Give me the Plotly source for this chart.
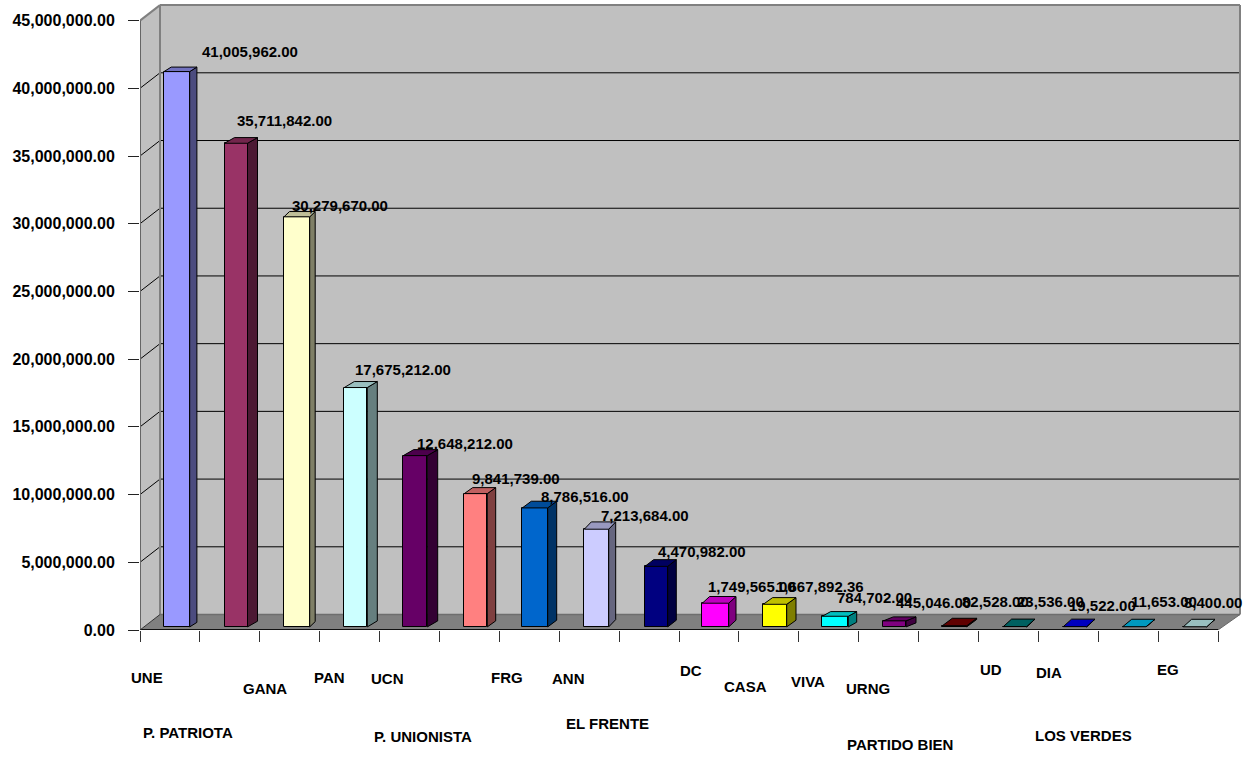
import plotly.graph_objects as go

# ---------- data ----------
categories = ["UNE", "P. PATRIOTA", "GANA", "PAN", "UCN", "P. UNIONISTA", "FRG", "ANN", "EL FRENTE",
              "DC", "CASA", "VIVA", "URNG", "PARTIDO BIEN", "UD", "DIA", "LOS VERDES", "EG"]
values = [41005962.00, 35711842.00, 30279670.00, 17675212.00, 12648212.00, 9841739.00, 8786516.00,
          7213684.00, 4470982.00, 1749565.00, 1667892.36, 784702.00, 445046.00, 82528.00, 23536.00,
          19522.00, 11653.00, 8400.00]
colors = ["#9999FF", "#993366", "#FFFFCC", "#CCFFFF", "#660066", "#FF8080", "#0066CC", "#CCCCFF", "#000080",
          "#FF00FF", "#FFFF00", "#00FFFF", "#800080", "#800000", "#008080", "#0000FF", "#00CCFF", "#CCFFFF"]
y_ticks = [0, 5000000, 10000000, 15000000, 20000000, 25000000, 30000000, 35000000, 40000000, 45000000]

# ---------- layout (page pixels) ----------
W, H = 1246, 758
X0, X1 = 140.0, 1218.0      # front edge of the floor
Y0, Y45 = 630.4, 20.6       # value 0 and 45M on the front plane
TOP = 4.0
RIGHT = 1242.0
UX = (X1 - X0) / len(values)
UY = (Y0 - Y45) / 45e6
WALL_DX_L, WALL_DX_R, WALL_DY = 20.0, 22.0, 15.5
BAR_LIFT = 3.1

bar_left = [164, 224.5, 284, 344.3, 403.3, 464.3, 522.3, 584.3, 645, 702.3, 763.3, 822.3, 883.3, 942.3, 1003.3,
            1063.3, 1122.7, 1183.3]
bar_right = [189.7, 247.5, 309.7, 367.3, 427.3, 487.3, 547.7, 608.7, 667.7, 728.7, 786.7, 848.3, 906, 966.7, 1026.7,
             1086.7, 1146, 1206.7]
bar_side = [7.2, 10, 5.5, 10, 10.4, 8.4, 9, 7, 8.6, 7.3, 9.3, 8.4, 10, 10, 8.3, 8.3, 9, 8.3]
bar_rise = [4.5, 5.7, 5.3, 6, 6, 6, 6.7, 7.3, 6.7, 6.7, 6.7, 4.7, 4, 7.5, 7.5, 7.5, 7.5, 7.5]

cat_label_xy = [(147, 678), (188, 733), (265, 689), (329, 678), (387, 679), (423, 737), (507, 678), (568, 679),
                (607, 724), (691, 671), (745, 687), (808, 682), (868, 689), (900, 745), (991, 670), (1049, 673),
                (1083, 736), (1168, 670)]
val_label_xy = [(249.5, 52), (284.5, 121), (339.5, 206), (403, 370), (465, 444), (516, 479), (585, 497), (644.5, 516),
                (702, 552), (752, 587), (819.5, 587), (874.5, 598), (933.5, 603), (996, 602), (1050, 602),
                (1102, 606), (1164, 602), (1213, 603)]


def dx(px):
    return px / UX


def dy(px):
    return px / UY


def xp(px):
    return (px - X0) / UX


def yp(py):
    return (Y0 - py) / UY


def paper_x(px):
    return (px - X0) / (RIGHT - X0)


def paper_y(py):
    return (Y0 - py) / (Y0 - TOP)


def shade(hex_color, k):
    r, g, b = (int(hex_color[i:i + 2], 16) for i in (1, 3, 5))
    return f"rgb({int(r * k)},{int(g * k)},{int(b * k)})"


FONT = "Liberation Sans"
fig = go.Figure()

# ---------- bars: front faces ----------
n = len(values)
xl_all = [xp(p) for p in bar_left]
xr_all = [xp(p) for p in bar_right]
centers = [(a + b) / 2 for a, b in zip(xl_all, xr_all)]
widths = [b - a for a, b in zip(xl_all, xr_all)]
fig.add_trace(go.Bar(x=centers, y=values, base=dy(BAR_LIFT), width=widths,
                     marker=dict(color=colors, line=dict(color="#000000", width=1)),
                     hoverinfo="skip", showlegend=False))

# ---------- bars: side and top faces ----------
for xl, xr, v, col, sd, rs in zip(xl_all, xr_all, values, colors, bar_side, bar_rise):
    yb, yt = dy(BAR_LIFT), dy(BAR_LIFT) + v
    ox, oy = dx(sd), dy(rs)
    fig.add_trace(go.Scatter(x=[xr, xr + ox, xr + ox, xr, xr], y=[yb, yb + oy, yt + oy, yt, yb],
                             mode="lines", fill="toself", fillcolor=shade(col, 0.5),
                             line=dict(color="#000000", width=1), hoverinfo="skip", showlegend=False))
    fig.add_trace(go.Scatter(x=[xl, xr, xr + ox, xl + ox, xl], y=[yt, yt, yt + oy, yt + oy, yt],
                             mode="lines", fill="toself", fillcolor=shade(col, 0.75),
                             line=dict(color="#000000", width=1), hoverinfo="skip", showlegend=False))

# ---------- walls and floor ----------
shapes = []
bl, br = dx(WALL_DX_L), n + dx(WALL_DX_R)
wy = dy(WALL_DY)
ytop = 45e6
GRAY = "#808080"


def poly(points, fill):
    path = "M " + " L ".join(f"{x},{y}" for x, y in points) + " Z"
    shapes.append(dict(type="path", path=path, xref="x", yref="y", layer="below", fillcolor=fill,
                       line=dict(color=fill, width=0)))


def seg(x0, y0, x1, y1, color, width):
    shapes.append(dict(type="line", x0=x0, y0=y0, x1=x1, y1=y1, xref="x", yref="y", layer="below",
                       line=dict(color=color, width=width)))


poly([(bl, wy), (br, wy), (br, wy + ytop), (bl, wy + ytop)], "#C0C0C0")
poly([(0, 0), (bl, wy), (bl, wy + ytop), (0, ytop)], "#C0C0C0")
poly([(0, 0), (n, 0), (br, wy), (bl, wy)], GRAY)
for t in y_ticks[1:-1]:
    seg(0, t, bl, t + wy, "#000000", 1)
    seg(bl, t + wy, br, t + wy, "#000000", 1)
seg(bl, wy, bl, wy + ytop, GRAY, 2)
seg(bl, wy + ytop, br, wy + ytop, GRAY, 2)
seg(br, wy, br, wy + ytop, GRAY, 2)
seg(0, ytop, bl, wy + ytop, GRAY, 2)
seg(0, 0, 0, ytop, "#666666", 2)
seg(bl, wy, br, wy, "#6e6e6e", 1.5)
seg(0, 0, n, 0, "#111111", 2)
seg(n, 0, br, wy, "#666666", 1)
seg(0, 0, bl, wy, "#333333", 1)

# ---------- text ----------
annotations = []
for (px, py), txt in zip(cat_label_xy, categories):
    annotations.append(dict(x=paper_x(px), y=paper_y(py), xref="paper", yref="paper", text=txt, showarrow=False,
                            xanchor="center", yanchor="middle",
                            font=dict(family=FONT, size=15, color="#000000", weight=700)))
for (px, py), v in zip(val_label_xy, values):
    annotations.append(dict(x=paper_x(px), y=paper_y(py), xref="paper", yref="paper", text=f"{v:,.2f}", showarrow=False,
                            xanchor="center", yanchor="middle",
                            font=dict(family=FONT, size=15, color="#000000", weight=700)))

fig.update_layout(
    width=W, height=H, autosize=False,
    paper_bgcolor="#FFFFFF", plot_bgcolor="#FFFFFF",
    margin=dict(l=X0, r=W - RIGHT, t=TOP, b=H - Y0, pad=0),
    showlegend=False, shapes=shapes, annotations=annotations, bargap=0,
    xaxis=dict(range=[0, xp(RIGHT)], tickmode="array", tickvals=list(range(n + 1)), showticklabels=False,
               ticks="outside", ticklen=11, tickwidth=1, tickcolor="#333333",
               showgrid=False, zeroline=False, showline=False),
    yaxis=dict(range=[0, yp(TOP)], tickmode="array", tickvals=y_ticks, tickformat=",.2f",
               ticks="outside", ticklen=11, tickwidth=1, tickcolor="#222222", ticklabelstandoff=10,
               tickfont=dict(family=FONT, size=16, color="#000000", weight=700),
               showgrid=False, zeroline=False, showline=False),
)

fig.write_html("out.html", config={"displayModeBar": False},
               post_script="document.body.style.margin='0';document.body.style.overflow='hidden';")
